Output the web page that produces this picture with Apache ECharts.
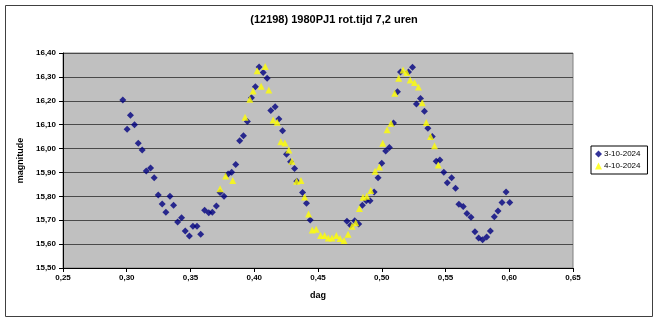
<!DOCTYPE html>
<html>
<head>
<meta charset="utf-8">
<script src="https://cdn.jsdelivr.net/npm/echarts@6/dist/echarts.min.js"></script>
<style>
  html, body { margin: 0; padding: 0; background: #ffffff; }
  #chart { width: 657px; height: 322px; }
</style>
</head>
<body>
<div id="chart"></div>
<script>
// Light curve of asteroid (12198) 1980PJ1, two observing nights
const seriesNames = ['3-10-2024', '4-10-2024'];

// Night 1: time (dag) and magnitude
const dag1 = [0.2969, 0.3003, 0.3029, 0.3061, 0.3090, 0.3121, 0.3153, 0.3187, 0.3215, 0.3247,
  0.3278, 0.3307, 0.3339, 0.3367, 0.3399, 0.3430, 0.3459, 0.3491, 0.3519, 0.3551,
  0.3580, 0.3611, 0.3643, 0.3671, 0.3703, 0.3732, 0.3763, 0.3795, 0.3823, 0.3855,
  0.3886, 0.3915, 0.3946, 0.3978, 0.4009, 0.4038, 0.4070, 0.4101, 0.4130, 0.4164,
  0.4193, 0.4222, 0.4253, 0.4285, 0.4316, 0.4334, 0.4379, 0.4410, 0.4439,
  0.4727, 0.4756, 0.4788, 0.4819, 0.4848, 0.4879, 0.4908, 0.4940, 0.4971, 0.5000,
  0.5031, 0.5060, 0.5092, 0.5123, 0.5147, 0.5210, 0.5241, 0.5272, 0.5304, 0.5335,
  0.5362, 0.5396, 0.5427, 0.5456, 0.5487, 0.5514, 0.5548, 0.5579, 0.5605, 0.5639,
  0.5668, 0.5700, 0.5731, 0.5760, 0.5791, 0.5823, 0.5852, 0.5883, 0.5912, 0.5943,
  0.5975, 0.6004];
const mag1 = [16.203, 16.081, 16.139, 16.100, 16.022, 15.994, 15.906, 15.919, 15.878, 15.806,
  15.768, 15.733, 15.800, 15.763, 15.693, 15.710, 15.655, 15.634, 15.675, 15.675,
  15.641, 15.742, 15.731, 15.733, 15.760, 15.816, 15.800, 15.894, 15.901, 15.933,
  16.033, 16.054, 16.113, 16.213, 16.259, 16.341, 16.318, 16.294, 16.159, 16.175,
  16.124, 16.075, 15.976, 15.945, 15.916, 15.863, 15.816, 15.771, 15.701,
  15.696, 15.679, 15.698, 15.684, 15.763, 15.781, 15.781, 15.818, 15.878, 15.938,
  15.990, 16.004, 16.107, 16.238, 16.320, 16.320, 16.340, 16.187, 16.210, 16.156,
  16.085, 16.050, 15.947, 15.952, 15.901, 15.857, 15.878, 15.834, 15.767, 15.757,
  15.728, 15.712, 15.652, 15.626, 15.618, 15.630, 15.655, 15.715, 15.739, 15.774,
  15.818, 15.774];

// Night 2: time (dag) and magnitude
const dag2 = [0.3732, 0.3776, 0.3831, 0.3928, 0.3965, 0.3991, 0.4023, 0.4054, 0.4086, 0.4114,
  0.4148, 0.4180, 0.4208, 0.4240, 0.4271, 0.4295, 0.4332, 0.4366, 0.4395, 0.4426,
  0.4455, 0.4486, 0.4520, 0.4552, 0.4581, 0.4610, 0.4644, 0.4673, 0.4704, 0.4736,
  0.4767, 0.4796, 0.4825, 0.4853, 0.4882, 0.4914, 0.4948, 0.4982, 0.5008, 0.5042,
  0.5073, 0.5102, 0.5133, 0.5167, 0.5196, 0.5223, 0.5257, 0.5288, 0.5317, 0.5349,
  0.5383, 0.5414, 0.5443];
const mag2 = [15.832, 15.885, 15.866, 16.131, 16.206, 16.241, 16.326, 16.261, 16.343, 16.245,
  16.120, 16.110, 16.028, 16.023, 15.994, 15.947, 15.863, 15.866, 15.797, 15.726,
  15.659, 15.662, 15.636, 15.636, 15.626, 15.626, 15.636, 15.623, 15.615, 15.641,
  15.675, 15.689, 15.749, 15.796, 15.800, 15.824, 15.905, 15.923, 16.022, 16.079,
  16.106, 16.231, 16.294, 16.329, 16.318, 16.287, 16.277, 16.258, 16.192, 16.109,
  16.050, 16.012, 15.931];

const xMin = 0.25, xMax = 0.65, xStep = 0.05;
const yMin = 15.5, yMax = 16.4, yStep = 0.1;

const pairs = (xs, ys) => xs.map((x, i) => [x, ys[i]]);
const comma = (v) => v.toFixed(2).replace('.', ',');
const FONT = 'Liberation Sans, Arial, sans-serif';

const chart = echarts.init(document.getElementById('chart'), null, { renderer: 'canvas' });
chart.setOption({
  backgroundColor: '#ffffff',
  animation: false,
  title: {
    text: '(12198) 1980PJ1 rot.tijd 7,2 uren',
    left: 329, top: 9, textAlign: 'center',
    textStyle: { fontFamily: FONT, fontSize: 11, fontWeight: 'bold', color: '#000' }
  },
  grid: {
    left: 63, top: 53, width: 510, height: 215,
    show: true, backgroundColor: '#c0c0c0', borderColor: '#808080', borderWidth: 1
  },
  legend: {
    orient: 'vertical',
    left: 591, top: 146,
    padding: [4, 7, 4, 4],
    itemGap: 4, itemWidth: 7, itemHeight: 7,
    borderColor: '#000', borderWidth: 1, backgroundColor: '#fff',
    textStyle: { fontFamily: FONT, fontSize: 8, color: '#000', padding: [0, 0, 0, -3] },
    data: [
      { name: seriesNames[0], icon: 'diamond' },
      { name: seriesNames[1], icon: 'triangle' }
    ]
  },
  xAxis: {
    type: 'value', min: xMin, max: xMax, interval: xStep,
    name: 'dag', nameLocation: 'middle', nameGap: 23,
    nameTextStyle: { fontFamily: FONT, fontSize: 9, fontWeight: 'bold', color: '#000' },
    axisLine: { show: true, onZero: false, lineStyle: { color: '#000', width: 1 } },
    axisTick: { show: true, length: 4, lineStyle: { color: '#000' } },
    axisLabel: { fontFamily: FONT, fontSize: 8, fontWeight: 'bold', color: '#000', margin: 6,
      formatter: comma },
    splitLine: { show: false }
  },
  yAxis: {
    type: 'value', min: yMin, max: yMax, interval: yStep,
    name: 'magnitude', nameLocation: 'middle', nameGap: 37, nameRotate: 90,
    nameTextStyle: { fontFamily: FONT, fontSize: 9, fontWeight: 'bold', color: '#000' },
    axisLine: { show: true, onZero: false, lineStyle: { color: '#000', width: 1 } },
    axisTick: { show: true, length: 4, lineStyle: { color: '#000' } },
    axisLabel: { fontFamily: FONT, fontSize: 8, fontWeight: 'bold', color: '#000', margin: 7,
      formatter: comma },
    splitLine: { show: true, lineStyle: { color: '#4a4a4a', width: 1 } }
  },
  graphic: [{
    type: 'rect',
    shape: { x: 5.5, y: 5.5, width: 647, height: 311 },
    style: { fill: 'none', stroke: '#404040', lineWidth: 1 },
    silent: true, z: -1
  }],
  series: [
    {
      name: seriesNames[0], type: 'scatter', symbol: 'diamond', symbolSize: 7,
      itemStyle: { color: '#000080' },
      data: pairs(dag1, mag1), z: 2
    },
    {
      name: seriesNames[1], type: 'scatter', symbol: 'triangle', symbolSize: 7,
      itemStyle: { color: '#ffff00' },
      data: pairs(dag2, mag2), z: 3
    }
  ]
});
</script>
</body>
</html>
